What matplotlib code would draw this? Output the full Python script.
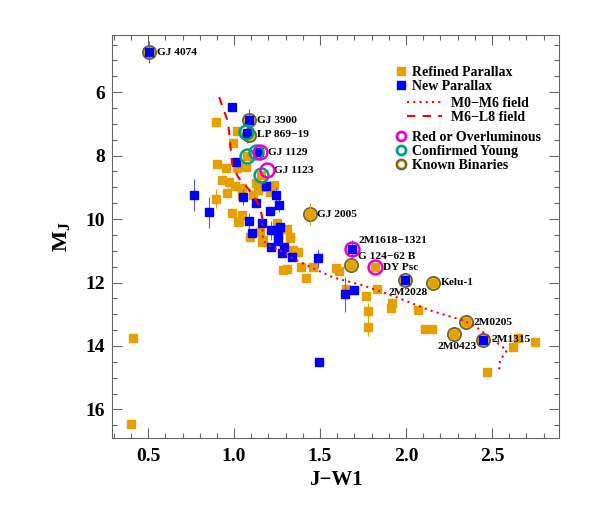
import matplotlib
matplotlib.use("Agg")
import matplotlib.pyplot as plt
from matplotlib.lines import Line2D

# Refined parallax sample (J-W1, M_J, error in M_J)
ref_x = [0.41, 0.40, 0.895, 1.017, 0.994, 0.90, 0.953, 1.017, 1.07, 0.93,
         0.97, 1.006, 1.047, 1.128, 1.14, 1.17, 1.23, 1.21, 0.96, 0.895,
         1.047, 1.03, 1.25, 1.31, 1.325, 1.09, 1.16, 1.345, 1.37, 1.39,
         1.285, 1.31, 1.42, 1.46, 1.59, 1.61, 1.65, 1.77, 1.78, 1.83,
         1.92, 1.91, 1.78, 2.07, 2.11, 2.15, 2.62, 2.65, 2.75, 2.47,
         0.988, 1.023, 1.15, 1.17, 1.325, 1.047, 1.11, 1.075, 1.157, 1.44,
         1.68, 1.82, 2.157, 2.35, 2.28]
ref_y = [13.76, 16.45, 6.95, 7.23, 7.6, 8.27, 8.4, 8.4, 8.37, 8.78,
         8.84, 8.97, 9.03, 8.87, 9.09, 9.0, 8.93, 9.15, 9.19, 9.36,
         9.88, 10.07, 10.13, 10.3, 10.57, 10.55, 10.73, 10.98, 11.05, 11.52,
         11.6, 11.56, 11.87, 11.5, 11.54, 11.65, 12.2, 12.43, 12.9, 12.2,
         12.63, 12.8, 13.4, 12.88, 13.48, 13.48, 14.04, 13.76, 13.88, 14.83,
         9.82, 10.1, 10.4, 10.67, 10.6, 9.25, 9.25, 8.0, 8.6, 9.85,
         11.46, 11.52, 12.0, 13.26, 13.63]
ref_err = [0.0, 0.1, 0.0, 0.0, 0.0, 0.0, 0.0, 0.0, 0.0, 0.0,
           0.0, 0.0, 0.0, 0.0, 0.0, 0.0, 0.0, 0.0, 0.0, 0.3,
           0.0, 0.0, 0.0, 0.0, 0.0, 0.0, 0.0, 0.0, 0.0, 0.0,
           0.0, 0.0, 0.0, 0.0, 0.0, 0.0, 0.0, 0.0, 0.25, 0.0,
           0.0, 0.0, 0.3, 0.0, 0.0, 0.0, 0.0, 0.0, 0.0, 0.0,
           0.0, 0.0, 0.0, 0.0, 0.0, 0.0, 0.0, 0.0, 0.0, 0.35,
           0.0, 0.0, 0.0, 0.0, 0.0]

# New parallax sample
new_x = [0.505, 0.99, 1.087, 1.075, 1.145, 1.01, 0.767, 0.855, 1.05, 1.128,
         1.186, 1.244, 1.26, 1.21, 1.087, 1.163, 1.105, 1.215, 1.267, 1.256,
         1.256, 1.215, 1.29, 1.28, 1.337, 1.49, 1.645, 1.70, 1.494, 1.686,
         1.994, 2.45]
new_y = [4.74, 6.47, 6.88, 7.3, 7.9, 8.2, 9.25, 9.79, 9.3, 9.5,
         8.97, 9.25, 9.57, 9.75, 10.07, 10.13, 10.45, 10.35, 10.26, 10.51,
         10.68, 10.89, 10.89, 11.08, 11.2, 11.24, 12.37, 12.25, 14.5, 10.95,
         11.93, 13.8]
new_err = [0.35, 0.0, 0.35, 0.3, 0.0, 0.0, 0.5, 0.5, 0.25, 0.0,
           0.0, 0.25, 0.2, 0.0, 0.25, 0.0, 0.0, 0.3, 0.0, 0.0,
           0.0, 0.0, 0.0, 0.0, 0.0, 0.3, 0.55, 0.0, 0.0, 0.3,
           0.0, 0.0]

# Field sequences
m0m6_x = [1.163, 1.169, 1.198, 1.267, 1.343, 1.459, 1.576, 1.75, 1.948, 2.14,
          2.33, 2.41, 2.49, 2.587, 2.547, 2.54]
m0m6_y = [10.13, 10.67, 10.83, 10.98, 11.24, 11.55, 11.84, 12.09, 12.47, 12.88,
          13.19, 13.41, 13.73, 14.14, 14.45, 14.83]
m6l8_x = [0.913, 0.936, 0.965, 0.977, 0.988, 1.023, 1.076, 1.11, 1.151, 1.163, 1.169]
m6l8_y = [6.16, 6.5, 6.95, 7.58, 8.24, 8.68, 9.0, 9.25, 9.63, 9.94, 10.13]

# Flagged objects
red_x = [1.15, 1.19, 1.686, 1.82]
red_y = [7.9, 8.46, 10.95, 11.52]
young_x = [1.07, 1.13, 1.075, 1.157]
young_y = [7.27, 7.9, 8.0, 8.6]
binary_x = [0.505, 1.087, 1.085, 1.44, 1.68, 1.994, 2.157, 2.35, 2.28, 2.45]
binary_y = [4.74, 6.88, 7.35, 9.85, 11.46, 11.93, 12.0, 13.26, 13.63, 13.8]

# Labels: name, x, y, placement
label_names = ["GJ 4074", "GJ 3900", "LP 869\u221219", "GJ 1129", "GJ 1123",
               "GJ 2005", "2M1618\u22121321", "G 124\u221262 B", "DY Psc",
               "2M2028", "Kelu-1", "2M0205", "2M0423", "2M1315"]
label_x = [0.505, 1.087, 1.09, 1.15, 1.19, 1.44, 1.686, 1.68, 1.82,
           1.994, 2.157, 2.35, 2.28, 2.45]
label_y = [4.74, 6.88, 7.35, 7.9, 8.46, 9.85, 10.95, 11.46, 11.52,
           11.93, 12.0, 13.26, 13.63, 13.8]
label_pos = ["right", "right", "right", "right", "right", "right", "upright",
             "upright", "right", "below", "right", "right", "below", "right"]

orange = "#E69F00"
blue = "#0000FF"
red = "#FF0000"
magenta = "#EE00CC"
teal = "#00A088"
olive = "#66663A"
yellow = "#F2CC00"

plt.rcParams["font.family"] = ["Liberation Serif", "DejaVu Serif"]
plt.rcParams["font.weight"] = "bold"
plt.rcParams["mathtext.fontset"] = "custom"
plt.rcParams["mathtext.rm"] = "Liberation Serif:bold"
plt.rcParams["mathtext.bf"] = "Liberation Serif:bold"
plt.rcParams["mathtext.it"] = "Liberation Serif:bold"

fig = plt.figure(figsize=(5.93, 5.09), dpi=100)
ax = fig.add_axes([0.1889, 0.1395, 0.7538, 0.7917])

# Known binaries (yellow filled rings below the squares)
ax.plot(binary_x, binary_y, "o", ms=9.5, mfc=yellow, mec=olive, mew=1.3,
        zorder=1.5, ls="none")

ax.errorbar(ref_x, ref_y, yerr=ref_err, fmt="s", ms=5.5, color=orange,
            mec=orange, elinewidth=0.8, capsize=0, zorder=2)
ax.errorbar(new_x, new_y, yerr=new_err, fmt="s", ms=5.5, color=blue,
            mec=blue, ecolor="#5A5AFF", elinewidth=0.8, capsize=0, zorder=3)

ax.plot(m0m6_x, m0m6_y, color=red, lw=1.5, ls=(0, (1, 2)), zorder=4)
ax.plot(m6l8_x, m6l8_y, color=red, lw=1.5, ls=(0, (4, 3.5)), zorder=4)

ax.plot(young_x, young_y, "o", ms=10, mfc="none", mec=teal, mew=1.8,
        ls="none", zorder=5)
ax.plot(red_x, red_y, "o", ms=10, mfc="none", mec=magenta, mew=1.8,
        ls="none", zorder=5)

for name, x, y, pos in zip(label_names, label_x, label_y, label_pos):
    if pos == "right":
        ax.annotate(name, (x, y), xytext=(5.5, 0), textcoords="offset points",
                    ha="left", va="center", fontsize=8.2, fontweight="bold")
    elif pos == "upright":
        ax.annotate(name, (x, y), xytext=(5, 6.5), textcoords="offset points",
                    ha="left", va="center", fontsize=8.2, fontweight="bold")
    else:
        ax.annotate(name, (x, y), xytext=(2, -9), textcoords="offset points",
                    ha="center", va="center", fontsize=8.2, fontweight="bold")

ax.set_xlim(0.29, 2.89)
ax.set_ylim(16.9, 4.2)
ax.set_xticks([0.5, 1.0, 1.5, 2.0, 2.5])
ax.set_xticks([x / 10 for x in range(3, 29)], minor=True)
ax.set_yticks([6, 8, 10, 12, 14, 16])
ax.set_yticks([x / 2 for x in range(9, 34)], minor=True)
ax.tick_params(which="both", direction="in", top=True, right=True,
               color="#666666", labelsize=14)
ax.tick_params(which="major", length=7, width=0.8)
ax.tick_params(which="minor", length=3.5, width=0.8)
ax.tick_params(axis="x", pad=7)
ax.tick_params(axis="y", pad=5)
for s in ax.spines.values():
    s.set_color("#666666")
    s.set_linewidth(0.8)

ax.set_xlabel("J\u2212W1", fontsize=15, fontweight="bold", labelpad=4)
ax.set_ylabel(r"$\mathbf{M_J}$", fontsize=16, labelpad=10)

# Legends
leg_kw = dict(loc="upper left", frameon=False, borderpad=0, borderaxespad=0,
              labelspacing=0.08, prop={"weight": "bold", "size": 10})
h1 = [Line2D([], [], marker="s", ms=5.5, color=orange, ls="none", label="Refined Parallax"),
      Line2D([], [], marker="s", ms=5.5, color=blue, ls="none", label="New Parallax")]
leg1 = ax.legend(handles=h1, bbox_to_anchor=(0.635, 0.924), handlelength=0.8,
                 handletextpad=0.35, **leg_kw)
ax.add_artist(leg1)
h2 = [Line2D([], [], color=red, lw=1.5, ls=(0, (1, 2)), label="M0\u2212M6 field"),
      Line2D([], [], color=red, lw=1.5, ls=(0, (4, 3.5)), label="M6\u2212L8 field")]
leg2 = ax.legend(handles=h2, bbox_to_anchor=(0.66, 0.846), handlelength=2.5,
                 handletextpad=0.7, **leg_kw)
ax.add_artist(leg2)
h3 = [Line2D([], [], marker="o", ms=6.5, mfc="none", mec=magenta, mew=2, ls="none"),
      Line2D([], [], marker="o", ms=6.5, mfc="none", mec=teal, mew=2, ls="none"),
      (Line2D([], [], marker="o", ms=6.5, mfc="none", mec=olive, mew=2, ls="none"),
       Line2D([], [], marker="o", ms=4.5, mfc="none", mec=yellow, mew=0.8, ls="none"))]
leg3 = ax.legend(handles=h3, labels=["Red or Overluminous", "Confirmed Young", "Known Binaries"],
                 bbox_to_anchor=(0.635, 0.762), handlelength=0.8,
                 handletextpad=0.35, **leg_kw)

fig.savefig("out.png", dpi=100)
